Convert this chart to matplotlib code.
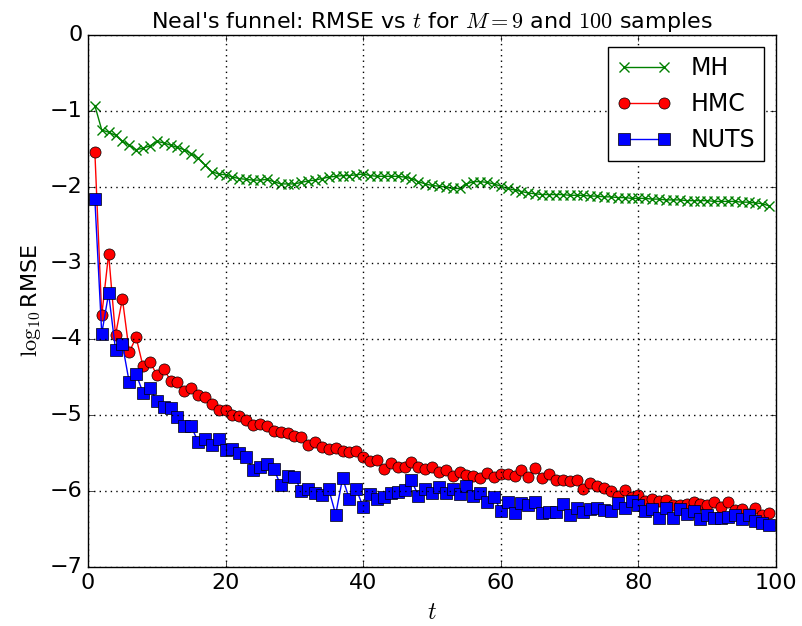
import matplotlib
matplotlib.use("Agg")
import matplotlib.pyplot as plt
import numpy as np

plt.style.use("classic")
plt.rcParams["mathtext.fontset"] = "cm"

t = np.arange(1, 100)

mh = [-0.93, -1.25, -1.28, -1.32, -1.40, -1.45, -1.51, -1.49, -1.46, -1.40,
      -1.42, -1.45, -1.48, -1.51, -1.56, -1.62, -1.71, -1.80, -1.83, -1.84,
      -1.87, -1.89, -1.90, -1.91, -1.91, -1.90, -1.93, -1.96, -1.96, -1.96,
      -1.94, -1.92, -1.91, -1.89, -1.87, -1.86, -1.85, -1.85, -1.84, -1.83,
      -1.85, -1.86, -1.86, -1.86, -1.86, -1.87, -1.89, -1.93, -1.96, -1.98,
      -1.99, -2.00, -2.02, -2.02, -1.96, -1.93, -1.93, -1.94, -1.96, -1.99,
      -2.02, -2.04, -2.06, -2.08, -2.09, -2.10, -2.10, -2.10, -2.10, -2.11,
      -2.11, -2.11, -2.12, -2.12, -2.13, -2.13, -2.14, -2.14, -2.15, -2.15,
      -2.15, -2.16, -2.16, -2.17, -2.17, -2.17, -2.18, -2.18, -2.18, -2.18,
      -2.19, -2.19, -2.19, -2.19, -2.20, -2.20, -2.21, -2.22, -2.25]

hmc = [-1.54, -3.69, -2.88, -3.95, -3.47, -4.17, -3.98, -4.36, -4.30, -4.47,
       -4.39, -4.55, -4.56, -4.69, -4.64, -4.74, -4.76, -4.85, -4.93, -4.93,
       -5.00, -5.01, -5.07, -5.13, -5.12, -5.14, -5.21, -5.23, -5.24, -5.27,
       -5.29, -5.39, -5.36, -5.42, -5.45, -5.44, -5.47, -5.49, -5.48, -5.55,
       -5.61, -5.59, -5.71, -5.63, -5.69, -5.68, -5.62, -5.69, -5.71, -5.69,
       -5.75, -5.73, -5.80, -5.75, -5.79, -5.80, -5.83, -5.76, -5.82, -5.77,
       -5.78, -5.80, -5.73, -5.82, -5.70, -5.83, -5.78, -5.86, -5.85, -5.87,
       -5.86, -5.98, -5.89, -5.93, -5.96, -6.00, -6.07, -5.99, -6.08, -6.05,
       -6.13, -6.10, -6.13, -6.12, -6.18, -6.18, -6.17, -6.15, -6.17, -6.18,
       -6.14, -6.21, -6.14, -6.25, -6.24, -6.30, -6.22, -6.32, -6.29]

nuts = [-2.16, -3.93, -3.40, -4.14, -4.07, -4.57, -4.46, -4.71, -4.64, -4.82,
        -4.89, -4.91, -5.02, -5.15, -5.15, -5.35, -5.31, -5.39, -5.31, -5.46,
        -5.45, -5.50, -5.55, -5.72, -5.68, -5.64, -5.71, -5.92, -5.80, -5.81,
        -6.00, -5.97, -6.02, -6.05, -5.98, -6.31, -5.83, -6.11, -5.98, -6.21,
        -6.04, -6.10, -6.08, -6.03, -6.01, -5.99, -5.86, -6.06, -5.98, -6.02,
        -5.95, -6.02, -5.97, -6.04, -5.94, -6.07, -6.02, -6.15, -6.08, -6.26,
        -6.14, -6.29, -6.16, -6.18, -6.14, -6.29, -6.28, -6.27, -6.17, -6.32,
        -6.22, -6.28, -6.24, -6.23, -6.25, -6.26, -6.16, -6.23, -6.13, -6.18,
        -6.26, -6.24, -6.35, -6.23, -6.35, -6.24, -6.30, -6.26, -6.37, -6.31,
        -6.35, -6.35, -6.34, -6.32, -6.37, -6.31, -6.39, -6.42, -6.45]

fig = plt.figure(figsize=(8.02, 6.26), dpi=100, facecolor="white")
ax = fig.add_axes([0.1097, 0.0942, 0.858, 0.850])

ax.plot(t, mh, color="green", marker="x", markersize=7, markeredgewidth=1,
        linewidth=1, label="MH")
ax.plot(t, hmc, color="red", marker="o", markersize=8, linewidth=1,
        markeredgecolor="black", label="HMC")
ax.plot(t, nuts, color="blue", marker="s", markersize=8, linewidth=1,
        markeredgecolor="black", label="NUTS")

ax.set_xlim(0, 100)
ax.set_ylim(-7, 0)
ax.set_xticks([0, 20, 40, 60, 80, 100])
ax.set_yticks(range(-7, 1))
ax.tick_params(labelsize=16)
ax.grid(True, color="black", linestyle=":", linewidth=1)

ax.set_title(r"Neal's funnel: RMSE vs $t$ for $M=9$ and $100$ samples",
             fontsize=16)
ax.set_xlabel(r"$t$", fontsize=17)
ax.set_ylabel(r"$\log_{10}$RMSE", fontsize=16)

ax.legend(loc="upper right", numpoints=2, fontsize=17, handlelength=2.3)

fig.savefig("out.png", dpi=100, facecolor="white")
